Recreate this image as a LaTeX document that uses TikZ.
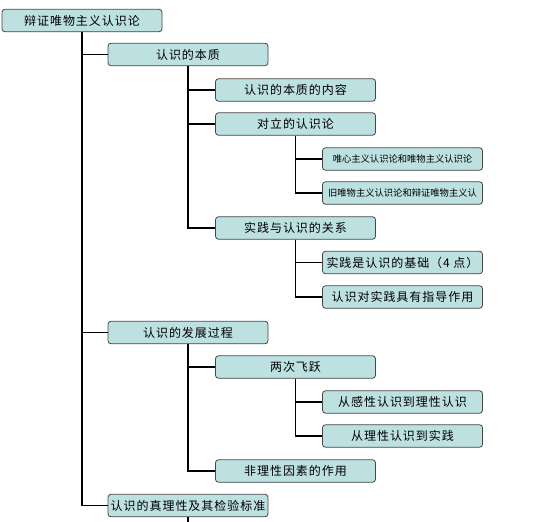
\documentclass[tikz,border=0pt]{standalone}
\usepackage{fontspec}
\setmainfont{Noto Sans CJK SC}
\newfontfamily\spaced[LetterSpace=8]{Noto Sans CJK SC}
\definecolor{boxfill}{RGB}{189,224,225}
\definecolor{boxline}{RGB}{70,70,70}
\begin{document}
\begin{tikzpicture}[x=1pt,y=-1pt,
    item/.style={draw=boxline,fill=boxfill,rounded corners=3pt,line width=0.8pt,
      minimum width=160pt,minimum height=22.5pt,inner sep=0pt,font=\spaced\fontsize{12}{14}\selectfont},
    small/.style={item,font=\fontsize{9.3}{11}\selectfont},
    link/.style={line width=1.8pt}]
  \useasboundingbox (0,0) rectangle (550,522);
  \node[item] (root) at (82,20.5) {辩证唯物主义认识论};
  \node[item] (a) at (188,54.5) {认识的本质};
  \node[item] (a1) at (295.5,90) {认识的本质的内容};
  \node[item] (a2) at (295.5,124) {对立的认识论};
  \node[small] (a21) at (402.5,159) {唯心主义认识论和唯物主义认识论};
  \node[small] (a22) at (402.5,193) {旧唯物主义认识论和辩证唯物主义认};
  \node[item] (a3) at (295.5,228) {实践与认识的关系};
  \node[item] (a31) at (402.5,262.5) {实践是认识的基础（4 点）};
  \node[item] (a32) at (402.5,297) {认识对实践具有指导作用};
  \node[item] (b) at (188,332.5) {认识的发展过程};
  \node[item] (b1) at (295.5,367) {两次飞跃};
  \node[item] (b11) at (402.5,402) {从感性认识到理性认识};
  \node[item] (b12) at (402.5,436) {从理性认识到实践};
  \node[item] (b2) at (295.5,471) {非理性因素的作用};
  \node[item] (c) at (188,505.5) {认识的真理性及其检验标准};
  \coordinate (stub) at (188,522);
  \foreach \p/\c in {root/a,root/b,root/c,a/a1,a/a2,a/a3,a2/a21,a2/a22,a3/a31,a3/a32,b/b1,b/b2,b1/b11,b1/b12}
    \draw[link] (\p.south) |- (\c.west);
  \draw[link] (c.south) -- (stub);
\end{tikzpicture}
\end{document}
